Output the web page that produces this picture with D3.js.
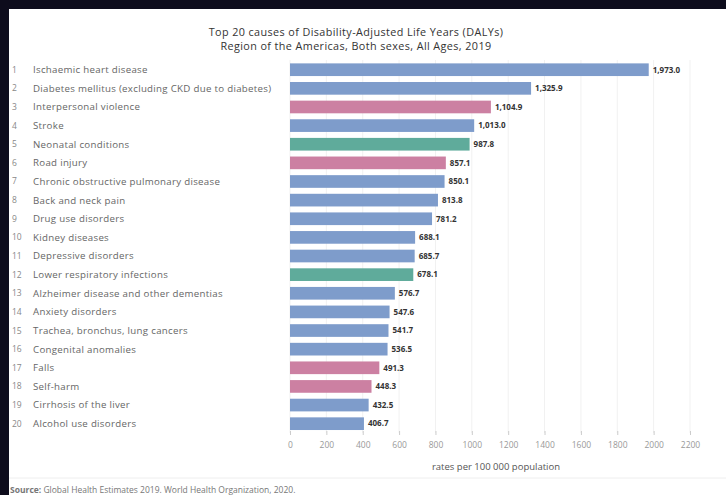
<!DOCTYPE html>
<html><head><meta charset="utf-8">
<script src="https://cdn.jsdelivr.net/npm/d3@7"></script>
<style>html,body{margin:0;padding:0;background:#0d0c1c;}svg{display:block;}</style>
</head><body>
<script>
const ranks = [1,2,3,4,5,6,7,8,9,10,11,12,13,14,15,16,17,18,19,20];
const causes = [
  "Ischaemic heart disease",
  "Diabetes mellitus (excluding CKD due to diabetes)",
  "Interpersonal violence",
  "Stroke",
  "Neonatal conditions",
  "Road injury",
  "Chronic obstructive pulmonary disease",
  "Back and neck pain",
  "Drug use disorders",
  "Kidney diseases",
  "Depressive disorders",
  "Lower respiratory infections",
  "Alzheimer disease and other dementias",
  "Anxiety disorders",
  "Trachea, bronchus, lung cancers",
  "Congenital anomalies",
  "Falls",
  "Self-harm",
  "Cirrhosis of the liver",
  "Alcohol use disorders"
];
const rates = [1973.0,1325.9,1104.9,1013.0,987.8,857.1,850.1,813.8,781.2,688.1,685.7,678.1,576.7,547.6,541.7,536.5,491.3,448.3,432.5,406.7];
const groups = ["NCD","NCD","INJ","NCD","CMN","INJ","NCD","NCD","NCD","NCD","NCD","CMN","NCD","NCD","NCD","NCD","INJ","INJ","NCD","NCD"];
const groupNames = ["NCD","INJ","CMN"];
const groupColors = ["#7e9ccb","#cc80a2","#5fab9b"];
const xTicks = [0,200,400,600,800,1000,1200,1400,1600,1800,2000,2200];
const titleLines = ["Top 20 causes of Disability-Adjusted Life Years (DALYs)","Region of the Americas, Both sexes, All Ages, 2019"];
const xTitle = "rates per 100 000 population";

const W = 726, H = 495;
const svg = d3.select("body").append("svg").attr("width", W).attr("height", H);
svg.append("rect").attr("width", W).attr("height", H).attr("fill", "#0d0c1c");
svg.append("rect").attr("x", 9).attr("y", 9).attr("width", W - 9).attr("height", H - 9).attr("fill", "#ffffff");

const font = "'Open Sans', sans-serif";
const x = d3.scaleLinear().domain([0, 2200]).range([290, 690]);
const y = d3.scaleBand().domain(causes).range([60.4, 433]).paddingInner(0.32).paddingOuter(0.16);
const color = d3.scaleOrdinal().domain(groupNames).range(groupColors);

// title
svg.append("g").selectAll("text").data(titleLines).join("text")
  .attr("x", 356).attr("y", (d, i) => 36 + i * 14)
  .attr("text-anchor", "middle").attr("font-family", font).attr("font-size", 10.8)
  .attr("letter-spacing", "0.4px").attr("fill", "#333").text(d => d);

// grid
svg.append("g").selectAll("line").data(xTicks).join("line")
  .attr("x1", d => x(d)).attr("x2", d => x(d)).attr("y1", 60).attr("y2", 433)
  .attr("stroke", "#f1f1f1").attr("stroke-width", 1);

// axis
const axis = svg.append("g").attr("transform", "translate(0,431)")
  .call(d3.axisBottom(x).tickValues(xTicks).tickSize(4).tickPadding(7).tickFormat(d3.format("d")));
axis.select(".domain").remove();
axis.selectAll("line").attr("stroke", "#ccc");
axis.selectAll("text").attr("font-family", font).attr("font-size", 8.5).attr("fill", "#999");

svg.append("text").attr("x", 496).attr("y", 470).attr("text-anchor", "middle")
  .attr("font-family", font).attr("font-size", 9.5).attr("fill", "#555").text(xTitle);

// bars
const rows = causes.map((c, i) => ({c, r: ranks[i], v: rates[i], g: groups[i]}));
svg.append("g").selectAll("rect").data(rows).join("rect")
  .attr("x", x(0)).attr("y", d => y(d.c)).attr("height", y.bandwidth())
  .attr("width", d => x(d.v) - x(0)).attr("fill", d => color(d.g));

// value labels
svg.append("g").selectAll("text").data(rows).join("text")
  .attr("x", d => x(d.v) + 4).attr("y", d => y(d.c) + y.bandwidth() / 2).attr("dy", "0.35em")
  .attr("font-family", font).attr("font-size", 8).attr("font-weight", "bold").attr("fill", "#333")
  .text(d => d3.format(",.1f")(d.v));

// rank + names
svg.append("g").selectAll("text").data(rows).join("text")
  .attr("x", 12).attr("y", d => y(d.c) + y.bandwidth() / 2).attr("dy", "0.35em")
  .attr("font-family", font).attr("font-size", 8.5).attr("fill", "#888").text(d => d.r);
svg.append("g").selectAll("text").data(rows).join("text")
  .attr("x", 33).attr("y", d => y(d.c) + y.bandwidth() / 2).attr("dy", "0.35em")
  .attr("font-family", font).attr("font-size", 9.7).attr("letter-spacing", "0.3px").attr("fill", "#666").text(d => d.c);

// source
svg.append("line").attr("x1", 9).attr("x2", W).attr("y1", 478).attr("y2", 478).attr("stroke", "#eee");
const src = svg.append("text").attr("x", 10).attr("y", 493).attr("font-family", font).attr("font-size", 8.5).attr("fill", "#777");
src.append("tspan").attr("font-weight", "bold").text("Source: ");
src.append("tspan").text("Global Health Estimates 2019. World Health Organization, 2020.");
</script>
</body></html>
